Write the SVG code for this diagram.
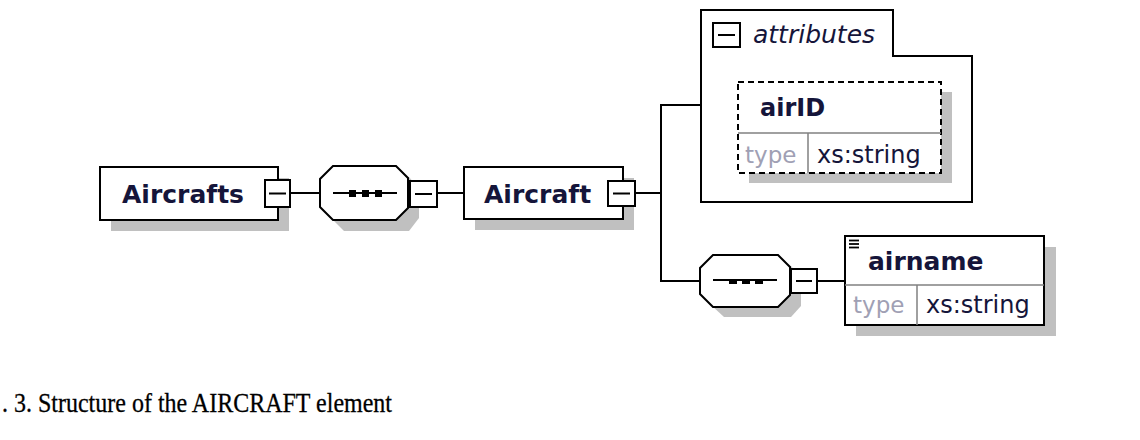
<svg xmlns="http://www.w3.org/2000/svg" width="1140" height="440" viewBox="0 0 1140 440">
  <style>
    .box { fill: #ffffff; stroke: #000000; stroke-width: 2; }
    .dash { fill: #ffffff; stroke: #000000; stroke-width: 2; stroke-dasharray: 6 4; }
    .shadow { fill: #c0c0c0; stroke: none; }
    .btn { fill: #ffffff; stroke: #000000; stroke-width: 2; }
    .minus { stroke: #000000; stroke-width: 2; }
    .div { stroke: #808080; stroke-width: 1.5; }
    .conn { fill: none; stroke: #000000; stroke-width: 2; }
    .name { font-family: "DejaVu Sans", Verdana, sans-serif; font-weight: bold; font-size: 25px; fill: #15153a; }
    .attr { font-family: "DejaVu Sans", Verdana, sans-serif; font-style: italic; font-size: 25px; fill: #15153a; }
    .type { font-family: "DejaVu Sans", Verdana, sans-serif; font-size: 23px; fill: #a0a0b4; }
    .val { font-family: "DejaVu Sans", Verdana, sans-serif; font-size: 24px; fill: #15153a; }
    .cap { font-family: "Liberation Serif", "Times New Roman", serif; font-size: 28px; fill: #000000; stroke: #000000; stroke-width: 0.3; }
  </style>
  <rect width="1140" height="440" fill="#ffffff"/>

  <g id="connectors">
    <line class="conn" x1="290" y1="193" x2="320" y2="193"/>
    <line class="conn" x1="437" y1="193" x2="464" y2="193"/>
    <line class="conn" x1="635" y1="193" x2="661" y2="193"/>
    <polyline class="conn" points="701,105 661,105 661,281 700,281"/>
    <line class="conn" x1="817" y1="281" x2="845" y2="281"/>
  </g>

  <g id="node-aircrafts">
    <rect class="shadow" x="111" y="178" width="178" height="53"/>
    <rect class="box" x="100" y="167" width="178" height="53"/>
    <text class="name" x="122" y="203">Aircrafts</text>
    <rect class="btn" x="265" y="180" width="25" height="27"/>
    <line class="minus" x1="269" y1="193.5" x2="286" y2="193.5"/>
  </g>

  <g id="node-sequence1">
    <polygon class="shadow" points="344,177 409,177 419,189 419,218 409,231 344,231 331,218 331,189"/>
    <polygon class="box" points="333,166 396,166 408,178 408,208 396,220 333,220 320,207 320,179"/>
    <line class="minus" x1="333" y1="193" x2="397" y2="193"/>
    <rect x="349" y="190" width="7" height="7" fill="#000"/>
    <rect x="362" y="190" width="7" height="7" fill="#000"/>
    <rect x="375" y="190" width="7" height="7" fill="#000"/>
    <rect class="btn" x="410" y="181" width="27" height="26"/>
    <line class="minus" x1="415" y1="194" x2="432" y2="194"/>
  </g>

  <g id="node-aircraft">
    <rect class="shadow" x="475" y="178" width="159" height="52"/>
    <rect class="box" x="464" y="167" width="159" height="52"/>
    <text class="name" x="484" y="203">Aircraft</text>
    <rect class="btn" x="608" y="181" width="27" height="25"/>
    <line class="minus" x1="613" y1="193.5" x2="630" y2="193.5"/>
  </g>

  <g id="node-attributes">
    <polygon class="box" points="701,10 893,10 893,56 972,56 972,202 701,202"/>
    <rect class="btn" x="713" y="23" width="27" height="24"/>
    <line class="minus" x1="718" y1="35" x2="735" y2="35"/>
    <text class="attr" x="753" y="43">attributes</text>
  </g>

  <g id="node-airID">
    <rect class="shadow" x="749" y="92" width="203" height="91"/>
    <rect class="dash" x="738" y="82" width="203" height="91"/>
    <line class="div" x1="738" y1="133" x2="941" y2="133"/>
    <line class="div" x1="808" y1="133" x2="808" y2="173"/>
    <text class="name" x="760" y="116" style="font-size:24px">airID</text>
    <text class="type" x="745" y="163">type</text>
    <text class="val" x="817" y="163">xs:string</text>
  </g>

  <g id="node-sequence2">
    <polygon class="shadow" points="724,266 791,266 801,278 801,306 791,317 724,317 711,305 711,279"/>
    <polygon class="box" points="713,255 778,255 790,267 790,295 778,307 713,307 700,294 700,268"/>
    <line class="minus" x1="713" y1="280" x2="777" y2="280"/>
    <rect x="729" y="280" width="8" height="4" fill="#000"/>
    <rect x="742" y="280" width="8" height="4" fill="#000"/>
    <rect x="755" y="280" width="8" height="4" fill="#000"/>
    <rect class="btn" x="791" y="269" width="26" height="24"/>
    <line class="minus" x1="796" y1="281" x2="812" y2="281"/>
  </g>

  <g id="node-airname">
    <rect class="shadow" x="856" y="247" width="200" height="89"/>
    <rect class="box" x="845" y="236" width="199" height="89"/>
    <line class="div" x1="845" y1="285" x2="1044" y2="285"/>
    <line class="div" x1="917" y1="285" x2="917" y2="325"/>
    <line class="minus" x1="849" y1="240.5" x2="859" y2="240.5" style="stroke-width:1.8"/>
    <line class="minus" x1="849" y1="244" x2="859" y2="244" style="stroke-width:1.8"/>
    <line class="minus" x1="849" y1="247.5" x2="859" y2="247.5" style="stroke-width:1.8"/>
    <text class="name" x="868" y="270">airname</text>
    <text class="type" x="853" y="313">type</text>
    <text class="val" x="926" y="313">xs:string</text>
  </g>

  <text class="cap" x="2" y="412" textLength="390" lengthAdjust="spacingAndGlyphs">. 3. Structure of the AIRCRAFT element</text>
</svg>
